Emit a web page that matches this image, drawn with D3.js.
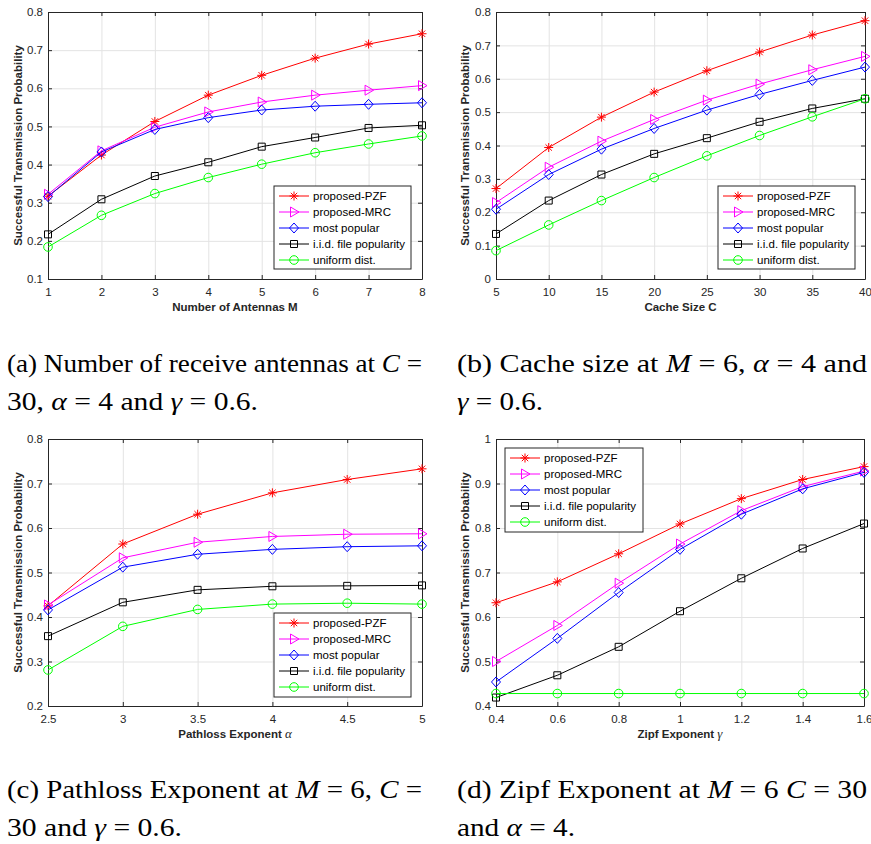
<!DOCTYPE html>
<html lang="en">
<head>
<meta charset="UTF-8">
<script src="https://d3js.org/d3.v7.min.js"></script>
<title>Successful transmission probability</title>
<style>
  body { margin: 0; background: #fff; }
  .sans { font-family: "Liberation Sans", Arial, sans-serif; }
  .cap { font-family: "Liberation Serif", "Times New Roman", Times, serif; }
  .tick text { fill: #262626; font-size: 11.5px; font-family: "Liberation Sans", Arial, sans-serif; }
  .axis path, .axis line { stroke: #262626; }
  .grid line { stroke: #e3e3e3; }
  .grid path { display: none; }
</style>
</head>
<body>
<svg id="chart" width="871" height="844"></svg>
<script>
// ---- data ----
var seriesNames = ["proposed-PZF", "proposed-MRC", "most popular", "i.i.d. file popularity", "uniform dist."];
var seriesColors = ["#ff0000", "#ff00ff", "#0000ff", "#000000", "#00ff00"];
var seriesMarkers = ["asterisk", "triangle", "diamond", "square", "circle"];

// (a) number of antennas
var xM = [1, 2, 3, 4, 5, 6, 7, 8];
var aPZF = [0.317, 0.425, 0.513, 0.582, 0.634, 0.679, 0.716, 0.743];
var aMRC = [0.322, 0.436, 0.498, 0.538, 0.564, 0.582, 0.595, 0.607];
var aPopular = [0.316, 0.433, 0.492, 0.523, 0.543, 0.553, 0.558, 0.562];
var aIID = [0.217, 0.309, 0.370, 0.406, 0.447, 0.471, 0.496, 0.503];
var aUniform = [0.184, 0.267, 0.324, 0.366, 0.401, 0.431, 0.454, 0.475];
var aXTicks = [1, 2, 3, 4, 5, 6, 7, 8];
var aYTicks = [0.1, 0.2, 0.3, 0.4, 0.5, 0.6, 0.7, 0.8];

// (b) cache size
var xC = [5, 10, 15, 20, 25, 30, 35, 40];
var bPZF = [0.271, 0.394, 0.485, 0.560, 0.624, 0.680, 0.731, 0.774];
var bMRC = [0.229, 0.335, 0.413, 0.478, 0.536, 0.584, 0.627, 0.667];
var bPopular = [0.209, 0.313, 0.389, 0.451, 0.506, 0.553, 0.595, 0.635];
var bIID = [0.135, 0.235, 0.313, 0.375, 0.422, 0.471, 0.511, 0.540];
var bUniform = [0.085, 0.162, 0.235, 0.304, 0.369, 0.430, 0.486, 0.540];
var bXTicks = [5, 10, 15, 20, 25, 30, 35, 40];
var bYTicks = [0, 0.1, 0.2, 0.3, 0.4, 0.5, 0.6, 0.7, 0.8];

// (c) pathloss exponent
var xAlpha = [2.5, 3, 3.5, 4, 4.5, 5];
var cPZF = [0.425, 0.564, 0.631, 0.679, 0.709, 0.733];
var cMRC = [0.427, 0.533, 0.568, 0.581, 0.586, 0.587];
var cPopular = [0.416, 0.512, 0.541, 0.552, 0.558, 0.560];
var cIID = [0.357, 0.433, 0.461, 0.469, 0.470, 0.471];
var cUniform = [0.281, 0.379, 0.417, 0.429, 0.431, 0.429];
var cXTicks = [2.5, 3, 3.5, 4, 4.5, 5];
var cYTicks = [0.2, 0.3, 0.4, 0.5, 0.6, 0.7, 0.8];

// (d) zipf exponent
var xGamma = [0.4, 0.6, 0.8, 1.0, 1.2, 1.4, 1.6];
var dPZF = [0.632, 0.679, 0.742, 0.809, 0.866, 0.909, 0.938];
var dMRC = [0.500, 0.581, 0.676, 0.764, 0.839, 0.893, 0.928];
var dPopular = [0.454, 0.552, 0.655, 0.752, 0.831, 0.888, 0.925];
var dIID = [0.419, 0.469, 0.533, 0.613, 0.687, 0.754, 0.810];
var dUniform = [0.428, 0.428, 0.428, 0.428, 0.428, 0.428, 0.428];
var dXTicks = [0.4, 0.6, 0.8, 1.0, 1.2, 1.4, 1.6];
var dYTicks = [0.4, 0.5, 0.6, 0.7, 0.8, 0.9, 1.0];

var yTitle = "Successful Transmission Probability";

// ---- layout ----
var panels = [
  { x: xM, series: [aPZF, aMRC, aPopular, aIID, aUniform], xt: aXTicks, yt: aYTicks,
    box: [48, 12, 422, 279], xLabel: ["Number of Antennas M"], yLabelX: 22, legend: [274, 186, 137, 83] },
  { x: xC, series: [bPZF, bMRC, bPopular, bIID, bUniform], xt: bXTicks, yt: bYTicks,
    box: [496, 12, 865, 279], xLabel: ["Cache Size C"], yLabelX: 469, legend: [718, 186, 137, 83] },
  { x: xAlpha, series: [cPZF, cMRC, cPopular, cIID, cUniform], xt: cXTicks, yt: cYTicks,
    box: [48, 439, 422, 706], xLabel: ["Pathloss Exponent ", "\u03b1"], yLabelX: 22, legend: [274, 613, 137, 84] },
  { x: xGamma, series: [dPZF, dMRC, dPopular, dIID, dUniform], xt: dXTicks, yt: dYTicks,
    box: [496, 439, 864, 706], xLabel: ["Zipf Exponent ", "\u03b3"], yLabelX: 469, legend: [505, 448, 138, 84] }
];

// caption lines: [x, baseline, width, segments]; segment [text, italic]
var captions = [
  [7, 372, 415, [["(a) Number of receive antennas at ", 0], ["C", 1], [" =", 0]]],
  [7, 410, 251, [["30, ", 0], ["\u03b1", 1], [" = 4 and ", 0], ["\u03b3", 1], [" = 0.6.", 0]]],
  [457, 372, 410, [["(b) Cache size at ", 0], ["M", 1], [" = 6, ", 0], ["\u03b1", 1], [" = 4 and", 0]]],
  [457, 410, 86, [["\u03b3", 1], [" = 0.6.", 0]]],
  [7, 798, 415, [["(c) Pathloss Exponent at ", 0], ["M", 1], [" = 6, ", 0], ["C", 1], [" =", 0]]],
  [7, 836, 175, [["30 and ", 0], ["\u03b3", 1], [" = 0.6.", 0]]],
  [457, 798, 410, [["(d) Zipf Exponent at ", 0], ["M", 1], [" = 6 ", 0], ["C", 1], [" = 30", 0]]],
  [457, 836, 118, [["and ", 0], ["\u03b1", 1], [" = 4.", 0]]]
];

function markerPath(type) {
  if (type === "asterisk") return "M-4.5,0L4.5,0M0,-4.5L0,4.5M-3.2,-3.2L3.2,3.2M-3.2,3.2L3.2,-3.2";
  if (type === "triangle") return "M-3.5,-5L5,0L-3.5,5Z";
  if (type === "diamond") return "M0,-5L4.5,0L0,5L-4.5,0Z";
  if (type === "square") return "M-3.5,-3.5H3.5V3.5H-3.5Z";
  var r = 4.3;
  return "M" + r + ",0A" + r + "," + r + " 0 1,1 " + (-r) + ",0A" + r + "," + r + " 0 1,1 " + r + ",0Z";
}

var fmt = function (d) { return String(+d.toFixed(2)); };

var svg = d3.select("#chart");
svg.append("rect").attr("width", 871).attr("height", 844).attr("fill", "#fff");

panels.forEach(function (p) {
  var x0 = p.box[0], y0 = p.box[1], x1 = p.box[2], y1 = p.box[3];
  var w = x1 - x0, h = y1 - y0;
  var x = d3.scaleLinear().domain(d3.extent(p.xt)).range([0, w]);
  var y = d3.scaleLinear().domain(d3.extent(p.yt)).range([h, 0]);

  var g = svg.append("g").attr("transform", "translate(" + x0 + "," + y0 + ")");
  g.append("rect").attr("width", w).attr("height", h).attr("fill", "#fff");

  // grid
  g.append("g").attr("class", "grid").attr("transform", "translate(0," + h + ")")
    .call(d3.axisBottom(x).tickValues(p.xt).tickSize(-h).tickFormat(""));
  g.append("g").attr("class", "grid")
    .call(d3.axisLeft(y).tickValues(p.yt).tickSize(-w).tickFormat(""));

  // box with inward ticks
  g.append("g").attr("class", "axis").attr("transform", "translate(0," + h + ")")
    .call(d3.axisBottom(x).tickValues(p.xt).tickSizeInner(-4).tickSizeOuter(0).tickPadding(9).tickFormat(fmt));
  g.append("g").attr("class", "axis")
    .call(d3.axisTop(x).tickValues(p.xt).tickSizeInner(-4).tickSizeOuter(0).tickFormat(""));
  g.append("g").attr("class", "axis")
    .call(d3.axisLeft(y).tickValues(p.yt).tickSizeInner(-4).tickSizeOuter(0).tickPadding(5).tickFormat(fmt));
  g.append("g").attr("class", "axis").attr("transform", "translate(" + w + ",0)")
    .call(d3.axisRight(y).tickValues(p.yt).tickSizeInner(-4).tickSizeOuter(0).tickFormat(""));
  g.selectAll(".axis .domain").attr("stroke-width", 1);

  // lines and markers
  var line = d3.line().x(function (d) { return x(d[0]); }).y(function (d) { return y(d[1]); });
  p.series.forEach(function (vals, si) {
    var pts = p.x.map(function (xv, i) { return [xv, vals[i]]; });
    g.append("path").datum(pts).attr("d", line)
      .attr("fill", "none").attr("stroke", seriesColors[si]).attr("stroke-width", 1);
    g.selectAll(null).data(pts).enter().append("path")
      .attr("transform", function (d) { return "translate(" + x(d[0]) + "," + y(d[1]) + ")"; })
      .attr("d", markerPath(seriesMarkers[si]))
      .attr("fill", "none").attr("stroke", seriesColors[si]).attr("stroke-width", 1);
  });

  // axis titles
  var xl = svg.append("text").attr("class", "sans").attr("x", (x0 + x1) / 2).attr("y", y1 + 32)
    .attr("text-anchor", "middle").attr("font-size", "11.5px").attr("font-weight", "bold").attr("fill", "#262626");
  xl.append("tspan").text(p.xLabel[0]);
  if (p.xLabel[1]) {
    xl.append("tspan").text(p.xLabel[1]).attr("class", "cap")
      .attr("font-style", "italic").attr("font-weight", "normal").attr("font-size", "13px");
  }
  svg.append("text").attr("class", "sans")
    .attr("transform", "translate(" + p.yLabelX + "," + (y0 + y1) / 2 + ") rotate(-90)")
    .attr("text-anchor", "middle").attr("font-size", "11.5px").attr("font-weight", "bold")
    .attr("fill", "#262626").text(yTitle);

  // legend
  var L = p.legend;
  var lg = svg.append("g").attr("transform", "translate(" + L[0] + "," + L[1] + ")");
  lg.append("rect").attr("width", L[2]).attr("height", L[3])
    .attr("fill", "#fff").attr("stroke", "#262626").attr("stroke-width", 1);
  seriesNames.forEach(function (name, si) {
    var cy = 10 + si * 16;
    lg.append("line").attr("x1", 5).attr("x2", 35).attr("y1", cy).attr("y2", cy)
      .attr("stroke", seriesColors[si]).attr("stroke-width", 1);
    lg.append("path").attr("transform", "translate(20," + cy + ")").attr("d", markerPath(seriesMarkers[si]))
      .attr("fill", "none").attr("stroke", seriesColors[si]).attr("stroke-width", 1);
    lg.append("text").attr("class", "sans").attr("x", 39).attr("y", cy).attr("dy", "0.35em")
      .attr("font-size", "11.5px").attr("fill", "#000").text(name);
  });
});

// captions
captions.forEach(function (c) {
  var t = svg.append("text").attr("class", "cap").attr("x", c[0]).attr("y", c[1])
    .attr("font-size", "26px").attr("fill", "#000")
    .attr("textLength", c[2]).attr("lengthAdjust", "spacingAndGlyphs");
  c[3].forEach(function (s) {
    var ts = t.append("tspan").text(s[0]);
    if (s[1]) ts.attr("font-style", "italic");
  });
});
</script>
</body>
</html>
